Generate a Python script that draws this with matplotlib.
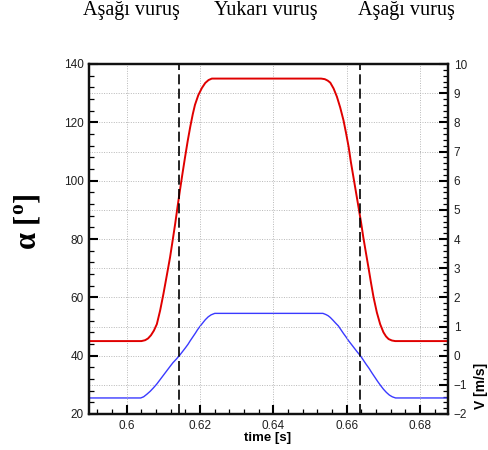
import matplotlib
matplotlib.use("Agg")
import matplotlib.pyplot as plt
from matplotlib.ticker import MultipleLocator, FuncFormatter

# Wing angle of attack over one stroke cycle (left axis, degrees)
time_alpha = [0.5897, 0.6040, 0.6050, 0.6058, 0.6066, 0.6074, 0.6082, 0.6091,
              0.6100, 0.6109, 0.6118, 0.6125, 0.6132, 0.6139, 0.6145, 0.6152,
              0.6159, 0.6166, 0.6173, 0.6180, 0.6186, 0.6195, 0.6205, 0.6214,
              0.6223, 0.6232, 0.6241,
              0.6530, 0.6540, 0.6548, 0.6555, 0.6564, 0.6573, 0.6582, 0.6591,
              0.6598, 0.6605, 0.6611, 0.6618, 0.6625, 0.6632, 0.6639, 0.6645,
              0.6652, 0.6659, 0.6666, 0.6673, 0.6682, 0.6691, 0.6700, 0.6707,
              0.6714, 0.6723, 0.6732, 0.6876]
alpha_deg = [45.0, 45.0, 45.3, 45.9, 47.0, 48.6, 50.8, 55.5,
             61.2, 67.4, 73.7, 79.4, 85.2, 91.5, 96.7, 102.5,
             108.1, 113.5, 118.4, 122.8, 126.0, 129.3, 131.8, 133.5,
             134.5, 135.0, 135.0,
             135.0, 134.8, 134.3, 133.6, 131.6, 128.8, 125.1, 120.7,
             116.3, 111.6, 106.5, 101.3, 96.1, 90.9, 85.6, 80.6,
             75.4, 70.3, 65.0, 60.0, 54.8, 50.8, 48.0, 46.6,
             45.7, 45.2, 45.0, 45.0]

# Stroke velocity (right axis, m/s)
time_v = [0.5897, 0.6038, 0.6046, 0.6055, 0.6064, 0.6073, 0.6082, 0.6091,
          0.6100, 0.6109, 0.6118, 0.6126, 0.6135, 0.6144, 0.6152, 0.6160,
          0.6167, 0.6173, 0.6180, 0.6187, 0.6193, 0.6200, 0.6207, 0.6214,
          0.6222, 0.6230, 0.6240,
          0.6535, 0.6543, 0.6549, 0.6555, 0.6562, 0.6570, 0.6577, 0.6584,
          0.6591, 0.6598, 0.6605, 0.6613, 0.6621, 0.6629, 0.6637, 0.6645,
          0.6653, 0.6661, 0.6668, 0.6676, 0.6684, 0.6692, 0.6700, 0.6708,
          0.6716, 0.6724, 0.6733, 0.6876]
velocity = [-1.45, -1.45, -1.41, -1.32, -1.22, -1.10, -0.97, -0.82,
            -0.67, -0.52, -0.37, -0.24, -0.12, 0.01, 0.14, 0.27,
            0.39, 0.51, 0.64, 0.77, 0.89, 1.01, 1.12, 1.23,
            1.33, 1.40, 1.45,
            1.45, 1.41, 1.37, 1.31, 1.22, 1.11, 1.02, 0.89,
            0.76, 0.64, 0.51, 0.38, 0.25, 0.12, 0.00, -0.15,
            -0.30, -0.44, -0.58, -0.73, -0.88, -1.02, -1.15, -1.26,
            -1.35, -1.41, -1.45, -1.45]

# Stroke reversal instants and phase names
stroke_marks = [0.6143, 0.6637]
stroke_labels = ["Aşağı vuruş", "Yukarı vuruş", "Aşağı vuruş"]
stroke_label_x = [131.5, 265.5, 406.5]

W, H = 489, 450
fig = plt.figure(figsize=(W / 100, H / 100), dpi=100)
ax = fig.add_axes([89 / W, 36 / H, 359 / W, 350 / H])
ax2 = ax.twinx()
ax.set_zorder(ax2.get_zorder() + 1)
ax.patch.set_visible(False)

ax.set_xlim(0.5897, 0.6876)
ax.set_ylim(20, 140)
ax2.set_ylim(-2, 10)

grid_kw = dict(color="#b8b8b8", linestyle=(0, (1, 1.5)), linewidth=0.7)
ax.grid(axis="x", which="major", **grid_kw)
ax2.grid(axis="y", which="major", **grid_kw)
ax.set_axisbelow(True)
ax2.set_axisbelow(True)

ax2.plot(time_v, velocity, color="#3a3aff", lw=1.0)
ax.plot(time_alpha, alpha_deg, color="#e00000", lw=1.4)
for t in stroke_marks:
    ax.axvline(t, color="black", linestyle=(0, (6, 2.6)), lw=1.2)

ax.xaxis.set_major_locator(MultipleLocator(0.02))
ax.xaxis.set_minor_locator(MultipleLocator(0.004))
ax.xaxis.set_major_formatter(FuncFormatter(lambda v, p: f"{v:g}"))
ax.yaxis.set_major_locator(MultipleLocator(20))
ax.yaxis.set_minor_locator(MultipleLocator(4))
ax2.yaxis.set_major_locator(MultipleLocator(1))
ax2.yaxis.set_minor_locator(MultipleLocator(0.2))

tick_font = dict(labelsize=8.5, labelcolor="#202020")
ax.tick_params(axis="both", which="major", direction="in", length=6.5, width=1.5,
               pad=4, top=False, right=False, **tick_font)
ax.tick_params(axis="both", which="minor", direction="in", length=3.5, width=0.9,
               top=False, right=False)
ax2.tick_params(axis="y", which="major", direction="in", length=6.5, width=1.5,
                pad=4, **tick_font)
ax2.tick_params(axis="y", which="minor", direction="in", length=3.5, width=0.9)
for a in (ax, ax2):
    for lbl in a.get_xticklabels() + a.get_yticklabels():
        lbl.set_family("Liberation Sans")
    for s in a.spines.values():
        s.set_linewidth(1.6)
        s.set_color("#111111")

fig.text(268 / W, 1 - 438 / H, "time [s]", ha="center", va="center",
         family="Liberation Sans", fontweight="bold", fontsize=9.5)
fig.text(481 / W, 1 - 386 / H, "V [m/s]", ha="center", va="center", rotation=90,
         family="Liberation Sans", fontweight="bold", fontsize=10)

plt.rcParams["mathtext.fontset"] = "custom"
plt.rcParams["mathtext.rm"] = "Liberation Serif:bold"
fig.text(28 / W, 1 - 222 / H, r"α [$^{\mathrm{o}}$]", ha="center", va="center",
         rotation=90, family="Liberation Serif", fontweight="bold", fontsize=22)

for x, s in zip(stroke_label_x, stroke_labels):
    fig.text(x / W, 1 - 11 / H, s, ha="center", va="center",
             family="Liberation Serif", fontsize=14.5)

fig.savefig("out.png", dpi=100, facecolor="white")
